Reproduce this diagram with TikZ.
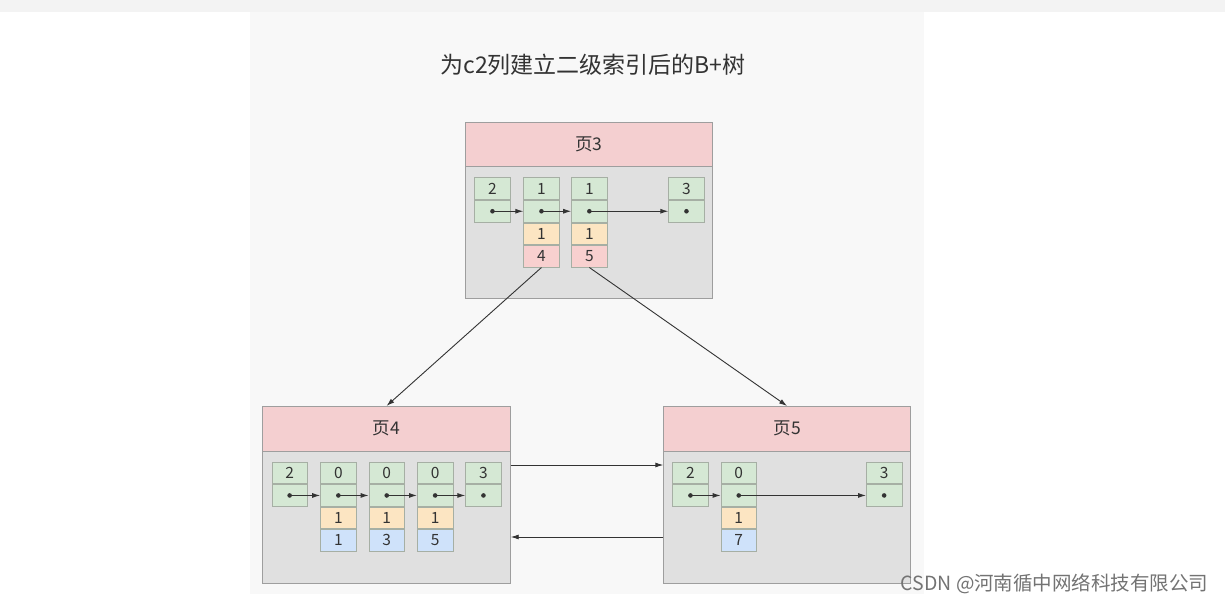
\documentclass[tikz,border=0pt]{standalone}
\usepackage{fontspec}
\setmainfont{Noto Sans CJK SC}
\usetikzlibrary{arrows.meta}
\definecolor{panelbg}{HTML}{F8F8F8}
\definecolor{topbg}{HTML}{F3F3F3}
\definecolor{bodyfill}{HTML}{E0E0E0}
\definecolor{bodyline}{HTML}{9E9E9E}
\definecolor{headfill}{HTML}{F4CFD0}
\definecolor{gfill}{HTML}{D5E8D4}
\definecolor{yfill}{HTML}{FCE5C2}
\definecolor{pfill}{HTML}{F8D0CF}
\definecolor{bfill}{HTML}{CFE2FA}
\definecolor{cline}{HTML}{A6AFA4}
\definecolor{ink}{HTML}{333333}
\tikzset{
  pagebody/.style={draw=bodyline, fill=bodyfill, line width=0.9pt, anchor=north west, inner sep=0pt},
  pagehead/.style={draw=bodyline, fill=headfill, line width=0.9pt, anchor=north west, inner sep=0pt, font=\fontsize{17.5}{17.5}\selectfont, text=ink},
  cellbase/.style={draw=cline, line width=0.8pt, minimum width=35.5pt, minimum height=21.7pt, inner sep=0pt, font=\fontsize{15.5}{15.5}\selectfont, text=ink},
  gcell/.style={cellbase, fill=gfill},
  ycell/.style={cellbase, fill=yfill},
  pcell/.style={cellbase, fill=pfill},
  bcell/.style={cellbase, fill=bfill},
  ptr/.style={draw=ink, line width=0.9pt, -{Latex[length=8pt,width=5pt]}},
  dotc/.style={fill=ink},
}
\begin{document}
\begin{tikzpicture}[x=1pt,y=-1pt]
\useasboundingbox (0,0) rectangle (1225,604);
\fill[white] (0,0) rectangle (1225,604);
\fill[topbg] (0,0) rectangle (1225,12);
\fill[panelbg] (250,12) rectangle (924,594);

\node[font=\fontsize{23}{23}\selectfont, text=ink] (title) at (593,65) {为c2列建立二级索引后的B+树};

% ---------- Page 3 ----------
\node[pagebody, minimum width=247pt, minimum height=175.5pt] (p3) at (465,122) {};
\node[pagehead, minimum width=247pt, minimum height=44.5pt] (p3h) at (465,122) {页3};
\node[gcell, anchor=north west] (p3a1) at (474.3,177.5) {2};
\node[gcell, anchor=north] (p3a2) at (p3a1.south) {};
\node[gcell, anchor=north west] (p3b1) at (523.3,177.5) {1};
\node[gcell, anchor=north] (p3b2) at (p3b1.south) {};
\node[ycell, anchor=north] (p3b3) at (p3b2.south) {1};
\node[pcell, anchor=north] (p3b4) at (p3b3.south) {4};
\node[gcell, anchor=north west] (p3c1) at (571.2,177.5) {1};
\node[gcell, anchor=north] (p3c2) at (p3c1.south) {};
\node[ycell, anchor=north] (p3c3) at (p3c2.south) {1};
\node[pcell, anchor=north] (p3c4) at (p3c3.south) {5};
\node[gcell, anchor=north west] (p3d1) at (668.3,177.5) {3};
\node[gcell, anchor=north] (p3d2) at (p3d1.south) {};
\foreach \n in {p3a2,p3b2,p3c2,p3d2} \fill[dotc] (\n.center) circle (2.3pt);
\draw[ptr] (p3a2.center) -- (p3b2.west);
\draw[ptr] (p3b2.center) -- (p3c2.west);
\draw[ptr] (p3c2.center) -- (p3d2.west);

% ---------- Page 4 ----------
\node[pagebody, minimum width=247.5pt, minimum height=176.5pt] (p4) at (262.3,406) {};
\node[pagehead, minimum width=247.5pt, minimum height=44.7pt] (p4h) at (262.3,406) {页4};
\node[gcell, anchor=north west] (p4a1) at (271.5,461.7) {2};
\node[gcell, anchor=north] (p4a2) at (p4a1.south) {};
\node[gcell, anchor=north west] (p4b1) at (320.2,461.7) {0};
\node[gcell, anchor=north] (p4b2) at (p4b1.south) {};
\node[ycell, anchor=north] (p4b3) at (p4b2.south) {1};
\node[bcell, anchor=north] (p4b4) at (p4b3.south) {1};
\node[gcell, anchor=north west] (p4c1) at (368.6,461.7) {0};
\node[gcell, anchor=north] (p4c2) at (p4c1.south) {};
\node[ycell, anchor=north] (p4c3) at (p4c2.south) {1};
\node[bcell, anchor=north] (p4c4) at (p4c3.south) {3};
\node[gcell, anchor=north west] (p4d1) at (417,461.7) {0};
\node[gcell, anchor=north] (p4d2) at (p4d1.south) {};
\node[ycell, anchor=north] (p4d3) at (p4d2.south) {1};
\node[bcell, anchor=north] (p4d4) at (p4d3.south) {5};
\node[gcell, anchor=north west] (p4e1) at (465.3,461.7) {3};
\node[gcell, anchor=north] (p4e2) at (p4e1.south) {};
\foreach \n in {p4a2,p4b2,p4c2,p4d2,p4e2} \fill[dotc] (\n.center) circle (2.3pt);
\draw[ptr] (p4a2.center) -- (p4b2.west);
\draw[ptr] (p4b2.center) -- (p4c2.west);
\draw[ptr] (p4c2.center) -- (p4d2.west);
\draw[ptr] (p4d2.center) -- (p4e2.west);

% ---------- Page 5 ----------
\node[pagebody, minimum width=246.7pt, minimum height=176.5pt] (p5) at (663.3,406) {};
\node[pagehead, minimum width=246.7pt, minimum height=44.7pt] (p5h) at (663.3,406) {页5};
\node[gcell, anchor=north west] (p5a1) at (672.3,461.7) {2};
\node[gcell, anchor=north] (p5a2) at (p5a1.south) {};
\node[gcell, anchor=north west] (p5b1) at (720.6,461.7) {0};
\node[gcell, anchor=north] (p5b2) at (p5b1.south) {};
\node[ycell, anchor=north] (p5b3) at (p5b2.south) {1};
\node[bcell, anchor=north] (p5b4) at (p5b3.south) {7};
\node[gcell, anchor=north west] (p5c1) at (866,461.7) {3};
\node[gcell, anchor=north] (p5c2) at (p5c1.south) {};
\foreach \n in {p5a2,p5b2,p5c2} \fill[dotc] (\n.center) circle (2.3pt);
\draw[ptr] (p5a2.center) -- (p5b2.west);
\draw[ptr] (p5b2.center) -- (p5c2.west);

% ---------- Tree links ----------
\draw[ptr] (p3b4.south) -- (p4h.north);
\draw[ptr] (p3c4.south) -- (p5h.north);
\draw[ptr] ([yshift=-59pt]p4.north east) -- ([yshift=-59pt]p5.north west);
\draw[ptr] ([yshift=-131pt]p5.north west) -- ([yshift=-131pt]p4.north east);

% ---------- Watermark ----------
\node[font=\fontsize{19.5}{19.5}\selectfont, text=black!55, anchor=east] (wm) at (1212,584) {CSDN @河南循中网络科技有限公司};
\end{tikzpicture}
\end{document}
